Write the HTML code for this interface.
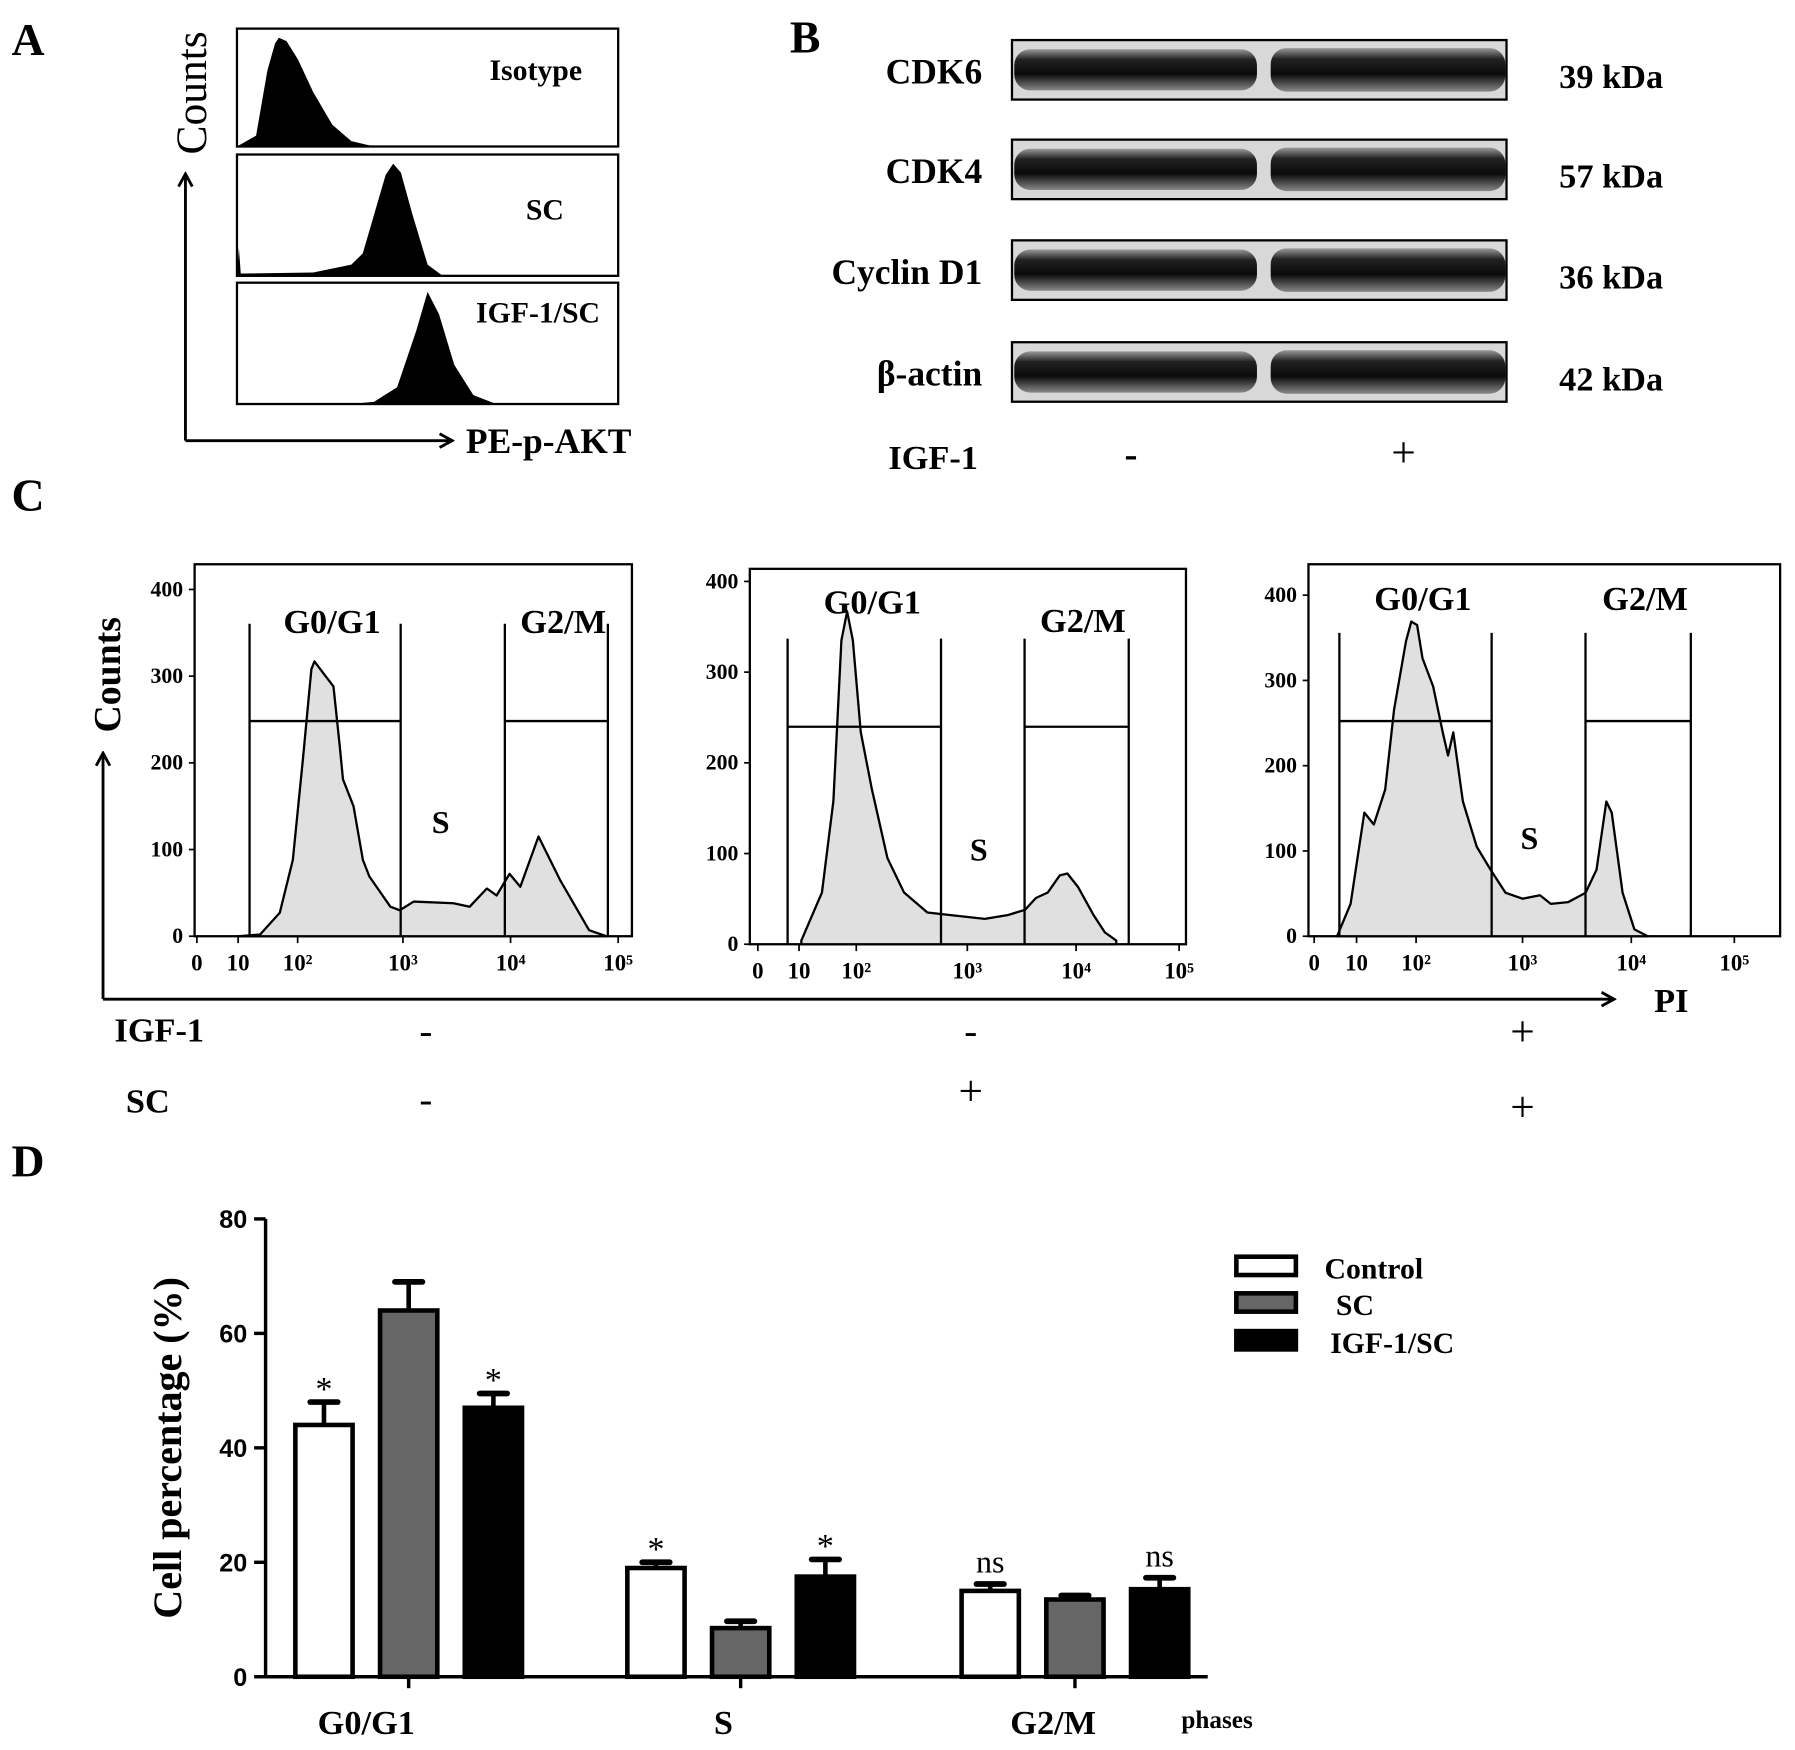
<!DOCTYPE html>
<html><head><meta charset="utf-8">
<style>
html,body{margin:0;padding:0;background:#fff;}
svg{display:block;font-family:"Liberation Serif",serif;font-weight:bold;}
</style></head>
<body>
<svg id="fig" width="1795" height="1750" viewBox="0 0 1568 1529" preserveAspectRatio="none" xmlns="http://www.w3.org/2000/svg">
<defs>
<linearGradient id="band" x1="0" y1="0" x2="0" y2="1">
<stop offset="0" stop-color="#999"/><stop offset="0.25" stop-color="#222"/><stop offset="0.6" stop-color="#0a0a0a"/><stop offset="1" stop-color="#888"/>
</linearGradient>
<marker id="arr" markerWidth="14" markerHeight="14" refX="12" refY="7" orient="auto" markerUnits="userSpaceOnUse">
<path d="M1,1 L12,7 L1,13" fill="none" stroke="#000" stroke-width="2.5"/>
</marker>
</defs>
<g id="panelA"></g>
<g id="panelB"></g>
<g id="panelC"></g>
<g id="panelD"></g>
</svg>
<script>
// ===== Panel A data (fraction of box width, relative height) =====
const aIsotypeX=[0,0.05,0.08,0.1,0.11,0.13,0.16,0.2,0.25,0.3,0.36,1];
const aIsotypeY=[0,0.1,0.7,0.95,1,0.97,0.8,0.5,0.2,0.05,0,0];
const aScX=[0,0.005,0.01,0.02,0.2,0.3,0.33,0.36,0.39,0.41,0.43,0.46,0.5,0.54,1];
const aScY=[0,0.25,0.02,0.02,0.03,0.1,0.2,0.55,0.9,1,0.92,0.55,0.1,0,0];
const aIgfX=[0,0.3,0.36,0.42,0.47,0.5,0.53,0.57,0.62,0.68,1];
const aIgfY=[0,0,0.02,0.15,0.65,1,0.8,0.35,0.08,0,0];
// ===== Panel B data =====
const bProteins=["CDK6","CDK4","Cyclin D1","β-actin"];
const bSizes=["39 kDa","57 kDa","36 kDa","42 kDa"];
// ===== Panel C data (x in decades: 1 = 10, 2 = 10^2 ...) =====
const c1X=[1.0,1.37,1.70,1.92,2.05,2.13,2.16,2.24,2.34,2.40,2.43,2.53,2.62,2.68,2.88,2.97,3.10,3.47,3.62,3.78,3.87,3.99,4.09,4.26,4.46,4.73,4.89];
const c1Y=[0,2,27,88,204,308,317,304,288,219,181,150,88,69,34,30,40,38,34,55,47,72,57,115,65,7,0];
const c2X=[1.04,1.40,1.60,1.74,1.84,1.94,2.04,2.14,2.28,2.43,2.64,2.85,3.16,3.37,3.53,3.63,3.74,3.85,3.92,4.02,4.17,4.28,4.39];
const c2Y=[4,57,158,335,367,335,234,171,95,57,35,32,28,32,38,51,57,76,78,63,32,13,4];
const c3X=[0.54,0.86,1.13,1.29,1.48,1.63,1.83,1.92,2.01,2.06,2.16,2.25,2.30,2.35,2.44,2.57,2.70,2.84,3.0,3.16,3.26,3.42,3.58,3.68,3.77,3.82,3.92,4.03,4.16];
const c3Y=[0,38,145,131,172,266,346,369,365,326,293,239,212,239,158,105,78,51,44,48,38,40,51,78,158,145,51,8,0];
const cTicks=[0,100,200,300,400];
const cIGF=["-","-","+"];
const cSC=["-","+","+"];
// ===== Panel D data =====
const dPhases=["G0/G1","S","G2/M"];
const dSeries=["Control","SC","IGF-1/SC"];
const dControl=[44,19,15];
const dSC=[64,8.5,13.5];
const dIGF=[47,17.5,15.3];
const dControlErr=[4,1,1.2];
const dSCErr=[5,1.2,0.7];
const dIGFErr=[2.5,3,2];
const dSig=["*","*","ns"];
const dSigIGF=["*","*","ns"];
const dTicks=[0,20,40,60,80];

const NS="http://www.w3.org/2000/svg";
function mk(parent,tag,attrs,text){const e=document.createElementNS(NS,tag);for(const k in attrs)e.setAttribute(k,attrs[k]);if(text!==undefined)e.textContent=text;parent.appendChild(e);return e;}

// ---------- Panel A ----------
const A=document.getElementById('panelA');
const pl=mk(A,'text',{x:10,y:48,'font-size':40},'A');

const aBoxes=[[25,128,aIsotypeX,aIsotypeY,'Isotype',468,70],[135,241,aScX,aScY,'SC',476,192],[247,353,aIgfX,aIgfY,'IGF-1/SC',470,282]];
aBoxes.forEach((b,i)=>{
  const [t,bt,xs,ys,lab,lx,ly]=b; const x0=207,x1=540;
  const g=mk(A,'g',{});
  
  
  mk(g,'rect',{x:x0,y:t,width:x1-x0,height:bt-t,fill:'none',stroke:'#000','stroke-width':2});
  let d='M'+x0+','+bt;
  xs.forEach((f,j)=>{d+=' L'+(x0+f*(x1-x0)).toFixed(1)+','+(bt-ys[j]*(bt-t-8)).toFixed(1);});
  d+=' L'+x1+','+bt+' Z';
  mk(g,'path',{d:d,fill:'#000'});
  const tx=mk(g,'text',{x:lx,y:ly,'font-size':26,'text-anchor':'middle'},lab);
  
});
mk(A,'line',{x1:162,y1:385,x2:162,y2:152,stroke:'#000','stroke-width':2.5,'marker-end':'url(#arr)'});
mk(A,'line',{x1:162,y1:385,x2:395,y2:385,stroke:'#000','stroke-width':2.5,'marker-end':'url(#arr)'});
const ac=mk(A,'text',{x:0,y:0,'font-size':38,'font-weight':'normal',transform:'translate(180,135) rotate(-90)'},'Counts');

const ax=mk(A,'text',{x:407,y:396,'font-size':31},'PE-p-AKT');


// ---------- Panel B ----------
const B=document.getElementById('panelB');
const bl=mk(B,'text',{x:690,y:46,'font-size':40},'B');

const bTops=[35,122,210,299];
bProteins.forEach((p,i)=>{
  const g=mk(B,'g',{});
  
  
  const t=bTops[i];
  mk(g,'rect',{x:884,y:t,width:432,height:52,fill:'#d8d8d8',stroke:'#000','stroke-width':2});
  mk(g,'rect',{x:886,y:t+8,width:212,height:36,rx:14,fill:'url(#band)'});
  mk(g,'rect',{x:1110,y:t+7,width:205,height:38,rx:14,fill:'url(#band)'});
  const lt=mk(g,'text',{x:858,y:t+38,'font-size':31,'text-anchor':'end'},p);
  
  const st=mk(g,'text',{x:1362,y:t+42,'font-size':30},bSizes[i]);
  
});
const bi=mk(B,'text',{x:776,y:410,'font-size':30},'IGF-1');

mk(B,'text',{x:988,y:408,'font-size':34,'text-anchor':'middle'},'-');
mk(B,'text',{x:1226,y:408,'font-size':38,'text-anchor':'middle','font-weight':'normal'},'+');

// ---------- Panel C ----------
const C=document.getElementById('panelC');
const cl=mk(C,'text',{x:10,y:446,'font-size':40},'C');

const cPanels=[
 {bx0:170,bx1:552,by0:493,y0:818,y400:515,anc:[172,208,260,352,446,540],gates:[218,350,441,531],gy:630,gtop:545,X:c1X,Y:c1Y,sx:385,sy:728,g1x:290,g2x:492,ly:553},
 {bx0:655,bx1:1036,by0:497,y0:825,y400:508,anc:[662,698,748,845,940,1030],gates:[688,822,895,986],gy:635,gtop:558,X:c2X,Y:c2Y,sx:855,sy:752,g1x:762,g2x:946,ly:536},
 {bx0:1143,bx1:1555,by0:493,y0:818,y400:520,anc:[1148,1185,1237,1330,1425,1515],gates:[1170,1303,1385,1477],gy:630,gtop:553,X:c3X,Y:c3Y,sx:1336,sy:742,g1x:1243,g2x:1437,ly:533}
];
cPanels.forEach((p,i)=>{
  const g=mk(C,'g',{});
  
  
  const yS=v=>p.y0-(v/400)*(p.y0-p.y400);
  const xS=d=>{const k=Math.max(0,Math.min(4,Math.floor(d)));return p.anc[k]+(d-k)*(p.anc[k+1]-p.anc[k]);};
  mk(g,'rect',{x:p.bx0,y:p.by0,width:p.bx1-p.bx0,height:p.y0-p.by0,fill:'none',stroke:'#000','stroke-width':2});
  let d='M'+xS(p.X[0]).toFixed(1)+','+yS(0);
  p.X.forEach((x,j)=>{d+=' L'+xS(x).toFixed(1)+','+yS(p.Y[j]).toFixed(1);});
  d+=' L'+xS(p.X[p.X.length-1]).toFixed(1)+','+yS(0)+' Z';
  const h=mk(g,'path',{d:d,fill:'#e0e0e0',stroke:'#000','stroke-width':2,'stroke-linejoin':'round'});
  
  p.gates.forEach(gx=>mk(g,'line',{x1:gx,y1:p.gtop,x2:gx,y2:p.y0,stroke:'#000','stroke-width':2}));
  mk(g,'line',{x1:p.gates[0],y1:p.gy,x2:p.gates[1],y2:p.gy,stroke:'#000','stroke-width':2});
  mk(g,'line',{x1:p.gates[2],y1:p.gy,x2:p.gates[3],y2:p.gy,stroke:'#000','stroke-width':2});
  cTicks.forEach(t=>{
    mk(g,'line',{x1:p.bx0-5,y1:yS(t),x2:p.bx0,y2:yS(t),stroke:'#000','stroke-width':1.5});
    const tt=mk(g,'text',{x:p.bx0-10,y:yS(t)+6,'font-size':19,'text-anchor':'end'},t);
    
  });
  const xl=[['0',0],['10',1],['10²',2],['10³',3],['10⁴',4],['10⁵',5]];
  xl.forEach(([s,dd])=>{
    mk(g,'line',{x1:xS(dd),y1:p.y0,x2:xS(dd),y2:p.y0+6,stroke:'#000','stroke-width':1.5});
    const tt=mk(g,'text',{x:xS(dd),y:p.y0+30,'font-size':20,'text-anchor':'middle'},s);
    
  });
  const t1=mk(g,'text',{x:p.g1x,y:p.ly,'font-size':30,'text-anchor':'middle'},'G0/G1');
  
  const t2=mk(g,'text',{x:p.g2x,y:p.ly+(i==1?16:0),'font-size':30,'text-anchor':'middle'},'G2/M');
  
  const t3=mk(g,'text',{x:p.sx,y:p.sy,'font-size':28,'text-anchor':'middle'},'S');
  
  const cx=[372,848,1330][i];
  const ti=mk(g,'text',{x:cx,y:cIGF[i]=='-'?912:914,'font-size':cIGF[i]=='-'?34:38,'text-anchor':'middle','font-weight':'normal'},cIGF[i]);
  
  const ts=mk(g,'text',{x:cx,y:cSC[i]=='-'?972:(i==1?966:980),'font-size':cSC[i]=='-'?34:38,'text-anchor':'middle','font-weight':'normal'},cSC[i]);
  
});
mk(C,'line',{x1:90,y1:873,x2:90,y2:658,stroke:'#000','stroke-width':2.5,'marker-end':'url(#arr)'});
mk(C,'line',{x1:90,y1:873,x2:1410,y2:873,stroke:'#000','stroke-width':2.5,'marker-end':'url(#arr)'});
const cc=mk(C,'text',{x:0,y:0,'font-size':33,transform:'translate(105,640) rotate(-90)'},'Counts');

const cp=mk(C,'text',{x:1445,y:884,'font-size':30},'PI');

const ci=mk(C,'text',{x:100,y:910,'font-size':30},'IGF-1');

const cs=mk(C,'text',{x:110,y:972,'font-size':30},'SC');


// ---------- Panel D ----------
const D=document.getElementById('panelD');
const dl=mk(D,'text',{x:10,y:1028,'font-size':40},'D');

const yD=v=>1465-v*5;
const groupStart=[258,548,840];
const barW=50, barStep=74;
mk(D,'line',{x1:232,y1:1465,x2:1055,y2:1465,stroke:'#000','stroke-width':3});
mk(D,'line',{x1:232,y1:1465,x2:232,y2:1065,stroke:'#000','stroke-width':3});
dTicks.forEach(t=>{
  mk(D,'line',{x1:222,y1:yD(t),x2:232,y2:yD(t),stroke:'#000','stroke-width':3});
  const tt=mk(D,'text',{x:216,y:yD(t)+8,'font-size':22,'text-anchor':'end','font-family':'Liberation Sans, sans-serif'},t);
  
});
const yt=mk(D,'text',{x:0,y:0,'font-size':35,'text-anchor':'middle',transform:'translate(158,1265) rotate(-90)'},'Cell percentage (%)');

const fills=['#fff','#666','#000'];
const vals=[dControl,dSC,dIGF], errs=[dControlErr,dSCErr,dIGFErr];
dPhases.forEach((ph,gi)=>{
  const gx=groupStart[gi];
  const cxm=gx+barStep+barW/2;
  mk(D,'line',{x1:cxm,y1:1465,x2:cxm,y2:1475,stroke:'#000','stroke-width':3});
  const lt=mk(D,'text',{x:[320,632,920][gi],y:1515,'font-size':30,'text-anchor':'middle'},ph);
  
  vals.forEach((arr,si)=>{
    const x=gx+si*barStep, v=arr[gi], e=errs[si][gi], cx=x+barW/2;
    mk(D,'line',{x1:cx,y1:yD(v),x2:cx,y2:yD(v+e),stroke:'#000','stroke-width':4});
    mk(D,'line',{x1:cx-12,y1:yD(v+e),x2:cx+12,y2:yD(v+e),stroke:'#000','stroke-width':5,'stroke-linecap':'round'});
    const r=mk(D,'rect',{x:x,y:yD(v),width:barW,height:yD(0)-yD(v),fill:fills[si],stroke:'#000','stroke-width':4});
    
    
    if(si!==1){
      const s=(si===0?dSig:dSigIGF)[gi];
      const top=yD(v+e)-10;
      const st=mk(D,'text',{x:cx,y:s=='*'?top+8:top,'font-size':s=='*'?30:28,'text-anchor':'middle','font-weight':'normal'},s);
      
    }
  });
});
const ph=mk(D,'text',{x:1032,y:1510,'font-size':22},'phases');

const legY=[1098,1130,1163];
const legTx=[1157,1167,1162];
dSeries.forEach((s,i)=>{
  const g=mk(D,'g',{});
  
  
  mk(g,'rect',{x:1080,y:legY[i],width:52,height:16,fill:fills[i],stroke:'#000','stroke-width':4});
  mk(g,'text',{x:legTx[i],y:legY[i]+19,'font-size':26},s);
});
</script>
</body></html>
